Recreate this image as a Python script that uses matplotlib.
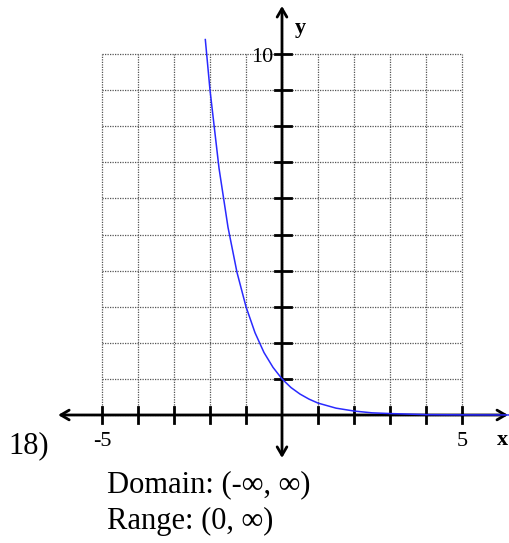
import matplotlib
matplotlib.use("Agg")
import matplotlib.pyplot as plt

# Curve points
curve_x = [-2.13, -2.0, -1.75, -1.5, -1.25, -1.0, -0.75, -0.5, -0.25, 0.0,
           0.25, 0.5, 0.75, 1.0, 1.5, 2.0, 2.5, 3.0, 4.0, 5.0, 6.3]
curve_y = [10.4, 9.0, 6.84, 5.2, 3.95, 3.0, 2.28, 1.73, 1.32, 1.0,
           0.76, 0.58, 0.44, 0.33, 0.19, 0.11, 0.06, 0.04, 0.01, 0.004, 0.001]

grid_x = [-5, -4, -3, -2, -1, 0, 1, 2, 3, 4, 5]
grid_y = [0, 1, 2, 3, 4, 5, 6, 7, 8, 9, 10]
xtick_labels = {-5: "-5", 5: "5"}
ytick_labels = {10: "10"}

PX = 36.0
PY = 36.1
X0, Y0 = 282, 415

fig = plt.figure(figsize=(5.09, 5.43), dpi=100)
ax = fig.add_axes([0, 0, 1, 1])
ax.set_xlim(-X0 / PX, (509 - X0) / PX)
ax.set_ylim((Y0 - 543) / PY, Y0 / PY)
ax.axis("off")

def dy(py):
    return (Y0 - py) / PY

def dx(px):
    return (px - X0) / PX

serif = ["Liberation Serif", "DejaVu Serif"]

# grid
for gx in grid_x:
    ax.plot([gx, gx], [0, 10], color="#555555", lw=0.9, ls=(0, (1, 1)), zorder=1)
for gy in grid_y:
    ax.plot([-5, 5], [gy, gy], color="#555555", lw=0.9, ls=(0, (1, 1)), zorder=1)

# axes with arrows
ax.annotate("", xy=(-6.22, 0), xytext=(6.28, 0),
            arrowprops=dict(arrowstyle="<->,head_length=0.6,head_width=0.35",
                            lw=2, color="black", shrinkA=0, shrinkB=0), zorder=3)
ax.annotate("", xy=(0, -1.19), xytext=(0, 11.33),
            arrowprops=dict(arrowstyle="<->,head_length=0.6,head_width=0.35",
                            lw=2, color="black", shrinkA=0, shrinkB=0), zorder=3)

# ticks
for gx in grid_x:
    if gx != 0:
        ax.plot([gx, gx], [-0.22, 0.22], color="black", lw=2, zorder=3)
for gy in grid_y:
    if gy != 0:
        ax.plot([-0.2, 0.24], [gy, gy], color="black", lw=2, zorder=3)

# curve
ax.plot(curve_x, curve_y, color="#2a2aff", lw=1.1, zorder=4)

# labels
for v, t in xtick_labels.items():
    ax.text(v, dy(446), t, ha="center", va="baseline", fontsize=16, family=serif)
for v, t in ytick_labels.items():
    ax.text(dx(273), dy(62), t, ha="right", va="baseline", fontsize=16, family=serif)
ax.text(dx(497), dy(445), "x", ha="left", va="baseline", fontsize=16, family=serif,
        fontweight="bold")
ax.text(dx(295), dy(33), "y", ha="left", va="baseline", fontsize=16, family=serif,
        fontweight="bold")

fig.text(8 / 509, 1 - 453 / 543, "18)", ha="left", va="baseline", fontsize=22, family=serif)
fig.text(107 / 509, 1 - 492 / 543, "Domain: (-\u221e, \u221e)", ha="left", va="baseline",
         fontsize=22, family=serif)
fig.text(107 / 509, 1 - 529 / 543, "Range: (0, \u221e)", ha="left", va="baseline",
         fontsize=22, family=serif)

fig.savefig("out.png", dpi=100)
